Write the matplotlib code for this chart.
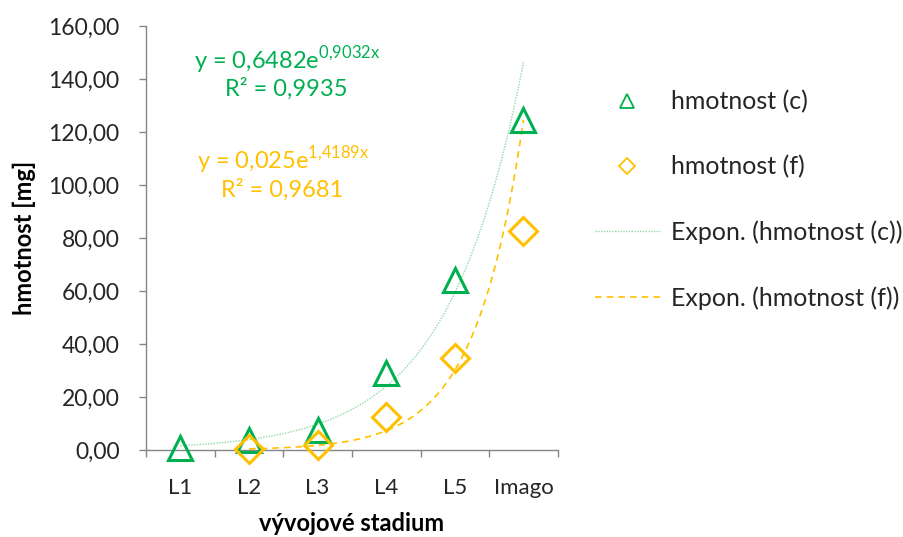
import numpy as np
import matplotlib
matplotlib.use("Agg")
import matplotlib.pyplot as plt
from matplotlib.ticker import FuncFormatter, FixedLocator

plt.rcParams['font.family'] = ['Lato', 'DejaVu Sans']

categories = ["L1", "L2", "L3", "L4", "L5", "Imago"]
hmotnost_c = [0.8, 3.8, 7.5, 29.0, 64.0, 124.5]
hmotnost_f = [None, 0.2, 2.0, 12.5, 34.7, 82.6]
fit_c = (0.6482, 0.9032)
fit_f = (0.025, 1.4189)
yticks = [0, 20, 40, 60, 80, 100, 120, 140, 160]

green = "#00B050"
green_light = "#8FD9A8"
orange = "#FFC000"
gray = "#868686"
txt = "#262626"

fig = plt.figure(figsize=(9.04, 5.37), dpi=100)
ax = fig.add_axes([0.1615, 0.162, 0.4555, 0.7896])

x = np.arange(1, len(categories) + 1)
xc = [xi for xi, v in zip(x, hmotnost_c) if v is not None]
yc = [v for v in hmotnost_c if v is not None]
xf = [xi for xi, v in zip(x, hmotnost_f) if v is not None]
yf = [v for v in hmotnost_f if v is not None]

ax.plot(xc, yc, linestyle="none", marker="^", markersize=17, markerfacecolor="none",
        markeredgecolor=green, markeredgewidth=2.2, label="hmotnost (c)", zorder=3, clip_on=False)
ax.plot(xf, yf, linestyle="none", marker="D", markersize=14, markerfacecolor="none",
        markeredgecolor=orange, markeredgewidth=2.2, label="hmotnost (f)", zorder=3, clip_on=False)

tc = np.linspace(xc[0], xc[-1], 200)
ax.plot(tc, fit_c[0] * np.exp(fit_c[1] * tc), color=green_light, linestyle=(0, (1, 1)),
        linewidth=1.0, label="Expon. (hmotnost (c))", zorder=2)
tf = np.linspace(xf[0], xf[-1], 200)
ax.plot(tf, fit_f[0] * np.exp(fit_f[1] * tf), color=orange, linestyle=(0, (4, 3)),
        linewidth=1.2, label="Expon. (hmotnost (f))", zorder=2)

ax.set_xlim(0.5, len(categories) + 0.5)
ax.set_ylim(0, 160)
ax.set_xticks(x)
ax.set_xticklabels(categories)
ax.xaxis.set_minor_locator(FixedLocator(np.arange(0.5, len(categories) + 1, 1)))
ax.tick_params(axis='x', which='major', length=0, pad=20, labelsize=16, colors=txt)
ax.tick_params(axis='x', which='minor', length=5, color=gray, width=1)
ax.set_yticks(yticks)
ax.yaxis.set_major_formatter(FuncFormatter(lambda v, p: f"{v:.2f}".replace(".", ",")))
ax.tick_params(axis='y', length=5, color=gray, width=1, labelsize=16.5, labelcolor=txt, pad=14)
for s in ["top", "right"]:
    ax.spines[s].set_visible(False)
for s in ["left", "bottom"]:
    ax.spines[s].set_color(gray)
    ax.spines[s].set_linewidth(1)

ax.set_xlabel("vývojové stadium", fontsize=17, fontweight="bold", labelpad=10, color="black")
ax.set_ylabel("hmotnost [mg]", fontsize=17, fontweight="bold", labelpad=9, color="black")

ax.text(2.55, 147, r"y = 0,6482e$^{\mathregular{0{,}9032x}}$", color=green, fontsize=17, ha="center", va="center")
ax.text(2.55, 136.3, "R² = 0,9935", color=green, fontsize=17, ha="center", va="center")
ax.text(2.5, 109.4, r"y = 0,025e$^{\mathregular{1{,}4189x}}$", color=orange, fontsize=17, ha="center", va="center")
ax.text(2.48, 98.3, "R² = 0,9681", color=orange, fontsize=17, ha="center", va="center")

leg = fig.legend(loc="upper left", bbox_to_anchor=(595 / 904, 1 - 90 / 537), frameon=False, fontsize=18,
                 labelspacing=1.68, handlelength=2.6, handletextpad=0.45, markerscale=0.6,
                 labelcolor=txt, borderaxespad=0, borderpad=0)
for h in leg.legend_handles:
    h.set_markeredgewidth(1.3)

fig.savefig("out.png", dpi=100)
